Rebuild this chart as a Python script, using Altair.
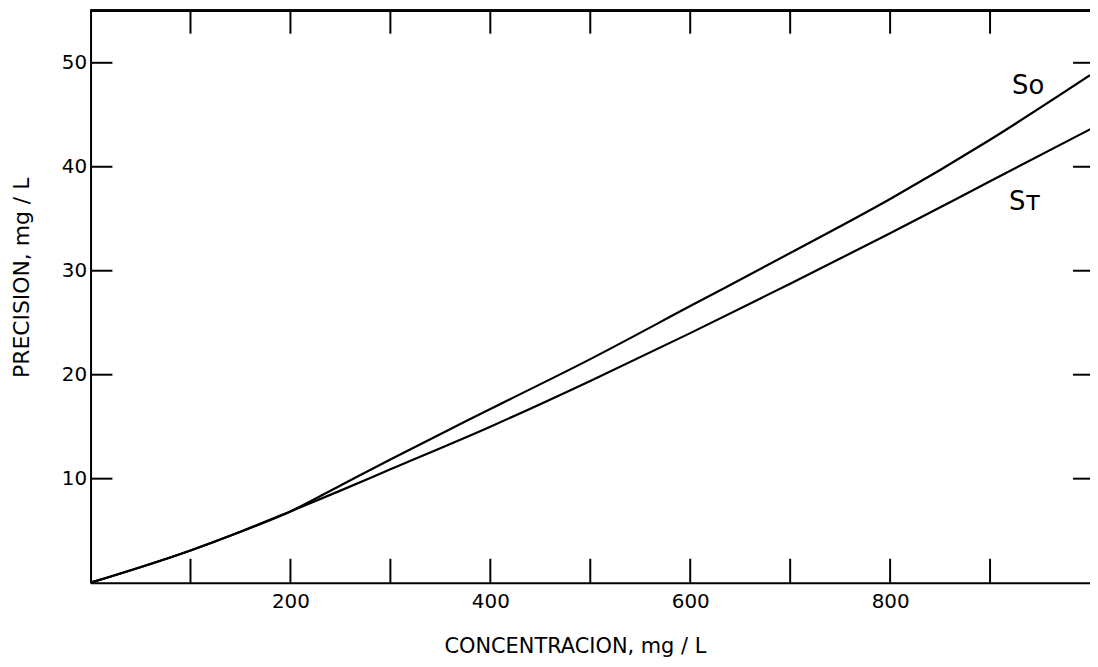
import altair as alt
import pandas as pd

# ---- data ----
concentration = [0, 100, 150, 200, 250, 300, 400, 500, 600, 700, 800, 900, 1000]
so_values = [0, 3.1, 4.9, 6.85, 9.35, 11.85, 16.7, 21.5, 26.6, 31.7, 36.9, 42.6, 48.8]
st_values = [0, 3.1, 4.9, 6.85, 8.85, 10.9, 15.0, 19.4, 24.0, 28.75, 33.6, 38.6, 43.6]

x_tick_values = [100, 200, 300, 400, 500, 600, 700, 800, 900]
x_label_values = [200, 400, 600, 800]
y_tick_values = [10, 20, 30, 40, 50]

label_text = ["So", "Sᴛ"]
label_x = [922, 919]
label_y = [47.0, 35.8]

W, H = 1005, 575
FONT = "DejaVu Sans"

rows = []
for c, v in zip(concentration, so_values):
    rows.append({"conc": c, "val": v, "serie": "So"})
for c, v in zip(concentration, st_values):
    rows.append({"conc": c, "val": v, "serie": "ST"})
df = pd.DataFrame(rows)

xt = pd.DataFrame({"t": x_tick_values})
yt = pd.DataFrame({"t": y_tick_values})
lab = pd.DataFrame({"x": label_x, "y": label_y, "text": label_text})

xscale = alt.Scale(domain=[0, 1000], nice=False, zero=False)
yscale = alt.Scale(domain=[0, 55], nice=False, zero=False)

XTITLE = "CONCENTRACION,  mg  /  L"
YTITLE = "PRECISION,  mg  /  L"

xaxis = alt.Axis(
    values=x_label_values, ticks=False, grid=False, domain=True,
    domainColor="black", domainWidth=2, labelFontSize=20, labelColor="black",
    labelFont=FONT, labelPadding=9, title=XTITLE,
    titleFont=FONT, titleFontSize=21, titleFontWeight="normal", titleColor="black",
    titlePadding=24, titleX=487)
yaxis = alt.Axis(
    values=y_tick_values, ticks=False, grid=False, domain=True,
    domainColor="black", domainWidth=2, labelFontSize=20, labelColor="black",
    labelFont=FONT, labelPadding=4, title=YTITLE,
    titleFont=FONT, titleFontSize=22, titleFontWeight="normal", titleColor="black",
    titleX=-62, titleY=268, titleBaseline="alphabetic", titleAngle=270)


def X(field):
    return alt.X(field, scale=xscale, axis=xaxis, title=XTITLE)


def Y(field):
    return alt.Y(field, scale=yscale, axis=yaxis, title=YTITLE)


lines = alt.Chart(df).mark_line(color="black", strokeWidth=2.2, interpolate="monotone").encode(
    x=X("conc:Q"), y=Y("val:Q"), detail="serie:N")

bottom_ticks = alt.Chart(xt).mark_rule(color="black", strokeWidth=2).encode(
    x=X("t:Q"), y=alt.value(H), y2=alt.value(H - 24))
top_ticks = alt.Chart(xt).mark_rule(color="black", strokeWidth=2).encode(
    x=X("t:Q"), y=alt.value(0), y2=alt.value(23))
left_ticks = alt.Chart(yt).mark_rule(color="black", strokeWidth=2).encode(
    y=Y("t:Q"), x=alt.value(0), x2=alt.value(22))
right_ticks = alt.Chart(yt).mark_rule(color="black", strokeWidth=2).encode(
    y=Y("t:Q"), x=alt.value(W - 17), x2=alt.value(W))
top_border = alt.Chart(xt).mark_rule(color="black", strokeWidth=2).encode(
    y=alt.value(0), x=alt.value(0), x2=alt.value(W))

labels = alt.Chart(lab).mark_text(
    font=FONT, fontSize=26, color="black", align="left", baseline="alphabetic").encode(
    x=X("x:Q"), y=Y("y:Q"), text="text:N")

chart = alt.layer(lines, bottom_ticks, top_ticks, left_ticks, right_ticks, top_border, labels).properties(
    width=W, height=H,
    autosize=alt.AutoSizeParams(type="none"),
    padding={"left": 83, "top": 1, "right": 0, "bottom": 83},
    background="white",
).configure_view(stroke=None)

chart.save("out.html", embed_options={"renderer": "svg", "actions": False})
